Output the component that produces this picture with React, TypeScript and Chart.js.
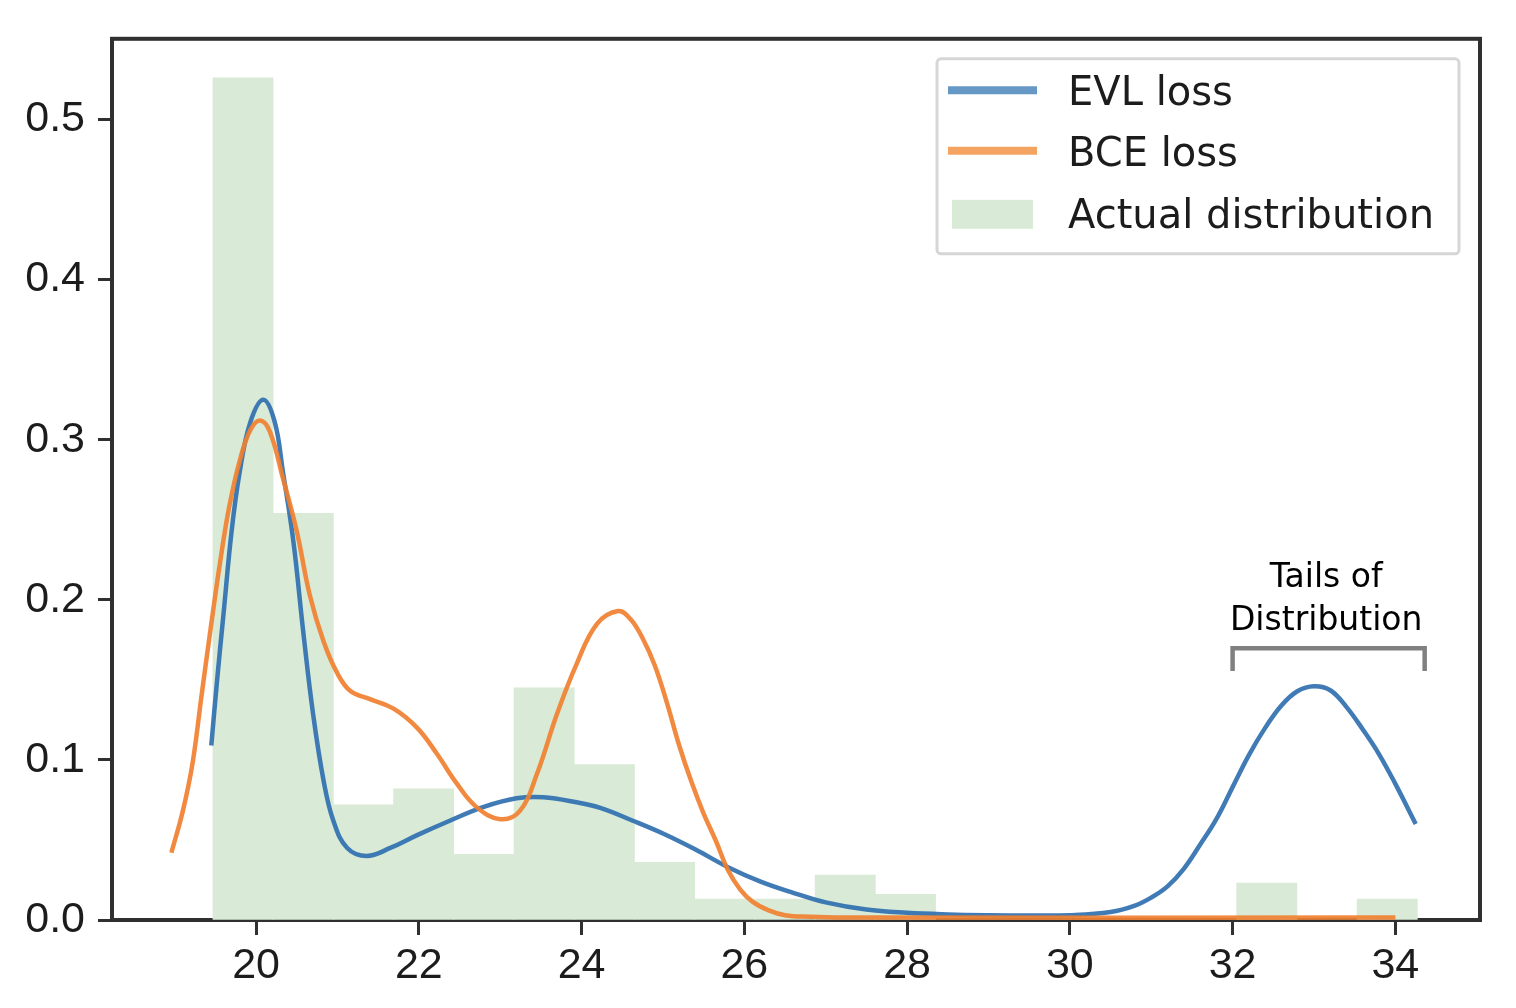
import { useEffect, useRef } from 'react'
import { Chart, registerables } from 'chart.js'

Chart.register(...registerables)

// histogram bins (centre of each 0.74-wide bin) and densities
const binCenters = [
  19.84, 20.58, 21.32, 22.06, 22.8, 23.54, 24.28, 25.02, 25.76, 26.5,
  27.24, 27.98, 28.72, 29.46, 30.2, 30.94, 31.68, 32.42, 33.16, 33.9,
]
const binHeights = [
  0.526, 0.254, 0.072, 0.082, 0.041, 0.145, 0.097, 0.036, 0.013, 0.013,
  0.028, 0.016, 0, 0, 0, 0, 0, 0.023, 0, 0.013,
]

// EVL loss density curve
const evlX = [
  19.45, 19.52, 19.6, 19.7, 19.8, 19.93, 20.09, 20.23, 20.33, 20.46,
  20.58, 20.7, 20.83, 20.95, 21.12, 21.36, 21.65, 21.98, 22.38, 22.79,
  23.2, 23.53, 23.94, 24.23, 24.63, 25.0, 25.4, 25.8, 26.2, 26.6,
  27.0, 27.5, 28.0, 28.5, 29.0, 29.5, 30.0, 30.5, 30.8, 31.0,
  31.2, 31.4, 31.6, 31.8, 32.0, 32.2, 32.4, 32.6, 32.8, 33.0,
  33.2, 33.4, 33.6, 33.8, 34.0, 34.25,
]
const evlY = [
  0.109, 0.149, 0.191, 0.243, 0.28, 0.311, 0.325, 0.311, 0.28, 0.236,
  0.18, 0.129, 0.087, 0.062, 0.045, 0.04, 0.045, 0.053, 0.062, 0.0705,
  0.076, 0.0767, 0.0735, 0.07, 0.062, 0.054, 0.044, 0.033, 0.024, 0.017,
  0.011, 0.0065, 0.0045, 0.0035, 0.003, 0.0028, 0.003, 0.005, 0.009, 0.014,
  0.021, 0.032, 0.047, 0.063, 0.083, 0.103, 0.12, 0.134, 0.143, 0.146,
  0.1435, 0.133, 0.119, 0.1035, 0.085, 0.06,
]

// BCE loss density curve
const bceX = [
  18.96, 19.1, 19.22, 19.33, 19.45, 19.56, 19.67, 19.8, 19.93, 20.05,
  20.17, 20.33, 20.5, 20.66, 20.83, 21.0, 21.16, 21.4, 21.69, 21.98,
  22.22, 22.47, 22.71, 23.0, 23.24, 23.45, 23.7, 23.94, 24.19, 24.45,
  24.6, 24.75, 24.9, 25.05, 25.2, 25.35, 25.5, 25.65, 25.8, 25.95,
  26.1, 26.3, 26.5, 26.8, 27.2, 34.0,
]
const bceY = [
  0.042, 0.068, 0.098, 0.14, 0.185, 0.224, 0.258, 0.287, 0.306, 0.312,
  0.305, 0.276, 0.243, 0.203, 0.174, 0.154, 0.143, 0.138, 0.132, 0.12,
  0.104, 0.085, 0.0705, 0.063, 0.068, 0.091, 0.129, 0.16, 0.185, 0.193,
  0.188, 0.176, 0.159, 0.1355, 0.109, 0.0863, 0.0665, 0.0495, 0.031, 0.019,
  0.0115, 0.006, 0.003, 0.002, 0.0015, 0.0015,
]

const xTicks = [20, 22, 24, 26, 28, 30, 32, 34]
const yTicks = [0, 0.1, 0.2, 0.3, 0.4, 0.5]

const seriesLabels = ['EVL loss', 'BCE loss', 'Actual distribution']
const noteLines = ['Tails of', 'Distribution']

const BLUE = 'rgba(48,112,176,0.92)'
const ORANGE = 'rgba(240,128,48,0.92)'
const GREEN = 'rgb(217,234,214)'
const TEXT = '#1c1c1c'
const AXIS = '#303030'

const tickFont = { family: 'Liberation Sans', size: 43 }

// frame, legend and the "tails" annotation drawn straight onto the canvas
const decorations = {
  id: 'decorations',
  beforeDatasetsDraw(chart: Chart) {
    const { ctx, chartArea: a } = chart
    ctx.save()
    ctx.strokeStyle = AXIS
    ctx.lineWidth = 4
    ctx.strokeRect(a.left, a.top, a.right - a.left, a.bottom - a.top)
    ctx.restore()
  },
  afterDraw(chart: Chart) {
    const { ctx, chartArea: a, scales } = chart
    const xs = scales.x
    const ys = scales.y
    ctx.save()

    // legend box
    const bw = 522
    const bh = 195
    const bx = a.right - 21 - bw
    const by = a.top + 20
    ctx.beginPath()
    ctx.roundRect(bx, by, bw, bh, 4)
    ctx.fillStyle = 'rgba(255,255,255,0.85)'
    ctx.fill()
    ctx.strokeStyle = '#d6d6d6'
    ctx.lineWidth = 3
    ctx.stroke()

    const rows = [by + 31.5, by + 92, by + 154.5]
    const swatch = ['#6598c4', '#f4a460']
    ctx.lineWidth = 8
    for (let i = 0; i < 2; i++) {
      ctx.strokeStyle = swatch[i]
      ctx.beginPath()
      ctx.moveTo(bx + 11, rows[i])
      ctx.lineTo(bx + 100, rows[i])
      ctx.stroke()
    }
    ctx.fillStyle = GREEN
    ctx.fillRect(bx + 15, rows[2] - 13.5, 81, 29)

    ctx.fillStyle = TEXT
    ctx.font = '40px "DejaVu Sans"'
    ctx.textAlign = 'left'
    ctx.textBaseline = 'alphabetic'
    seriesLabels.forEach((t, i) => ctx.fillText(t, bx + 131, rows[i] + 15))

    // bracket over the tail bins
    const x0 = xs.getPixelForValue(32.0)
    const x1 = xs.getPixelForValue(34.36)
    const yTop = ys.getPixelForValue(0.1698)
    const yBot = ys.getPixelForValue(0.1555)
    ctx.strokeStyle = '#808080'
    ctx.lineWidth = 4.5
    ctx.lineJoin = 'miter'
    ctx.beginPath()
    ctx.moveTo(x0, yBot)
    ctx.lineTo(x0, yTop)
    ctx.lineTo(x1, yTop)
    ctx.lineTo(x1, yBot)
    ctx.stroke()

    ctx.fillStyle = '#000'
    ctx.font = '33px "DejaVu Sans"'
    ctx.textAlign = 'center'
    const cx = xs.getPixelForValue(33.15)
    ctx.fillText(noteLines[0], cx, ys.getPixelForValue(0.2083))
    ctx.fillText(noteLines[1], cx, ys.getPixelForValue(0.181))
    ctx.restore()
  },
}

export default function App() {
  const canvasRef = useRef<HTMLCanvasElement>(null)

  useEffect(() => {
    if (!canvasRef.current) return
    document.body.style.margin = '0'

    const chart = new Chart(canvasRef.current, {
      type: 'bar',
      data: {
        datasets: [
          {
            type: 'line',
            label: seriesLabels[1],
            data: bceX.map((x, i) => ({ x, y: bceY[i] })),
            borderColor: ORANGE,
            borderWidth: 4.5,
            pointRadius: 0,
            fill: false,
            tension: 0.4,
            order: 1,
          },
          {
            type: 'line',
            label: seriesLabels[0],
            data: evlX.map((x, i) => ({ x, y: evlY[i] })),
            borderColor: BLUE,
            borderWidth: 4.5,
            pointRadius: 0,
            fill: false,
            tension: 0.4,
            order: 2,
          },
          {
            type: 'bar',
            label: seriesLabels[2],
            data: binCenters.map((x, i) => ({ x, y: binHeights[i] })),
            backgroundColor: GREEN,
            borderWidth: 0,
            barPercentage: 1,
            categoryPercentage: 1,
            order: 3,
          },
        ],
      },
      options: {
        responsive: false,
        animation: false,
        devicePixelRatio: 1,
        layout: { padding: { left: 0, top: 35, right: 36, bottom: 0 } },
        plugins: { legend: { display: false }, tooltip: { enabled: false } },
        scales: {
          x: {
            type: 'linear',
            min: 18.23,
            max: 35.04,
            offset: false,
            afterBuildTicks: (s: any) => { s.ticks = xTicks.map(v => ({ value: v })) },
            afterFit: (s: any) => { s.height = 88 },
            ticks: {
              font: tickFont,
              color: TEXT,
              padding: 5,
              maxRotation: 0,
              autoSkip: false,
              callback: (v: any) => String(v),
            },
            grid: {
              display: true,
              offset: false,
              drawOnChartArea: false,
              drawTicks: true,
              tickLength: 15,
              tickWidth: 3,
              tickColor: AXIS,
            },
            border: { display: false },
          },
          y: {
            type: 'linear',
            min: 0,
            max: 0.5504,
            afterBuildTicks: (s: any) => { s.ticks = yTicks.map(v => ({ value: v })) },
            afterFit: (s: any) => { s.width = 112 },
            ticks: {
              font: tickFont,
              color: TEXT,
              padding: 13,
              autoSkip: false,
              callback: (v: any) => Number(v).toFixed(1),
            },
            grid: {
              display: true,
              drawOnChartArea: false,
              drawTicks: true,
              tickLength: 14,
              tickWidth: 3,
              tickColor: AXIS,
            },
            border: { display: false },
          },
        },
      },
      plugins: [decorations],
    })

    return () => { chart.destroy() }
  }, [])

  return (
    <div style={{ position: 'absolute', left: 0, top: 0, width: 1516, height: 1008, background: '#fff' }}>
      <canvas ref={canvasRef} width={1516} height={1008} />
    </div>
  )
}
